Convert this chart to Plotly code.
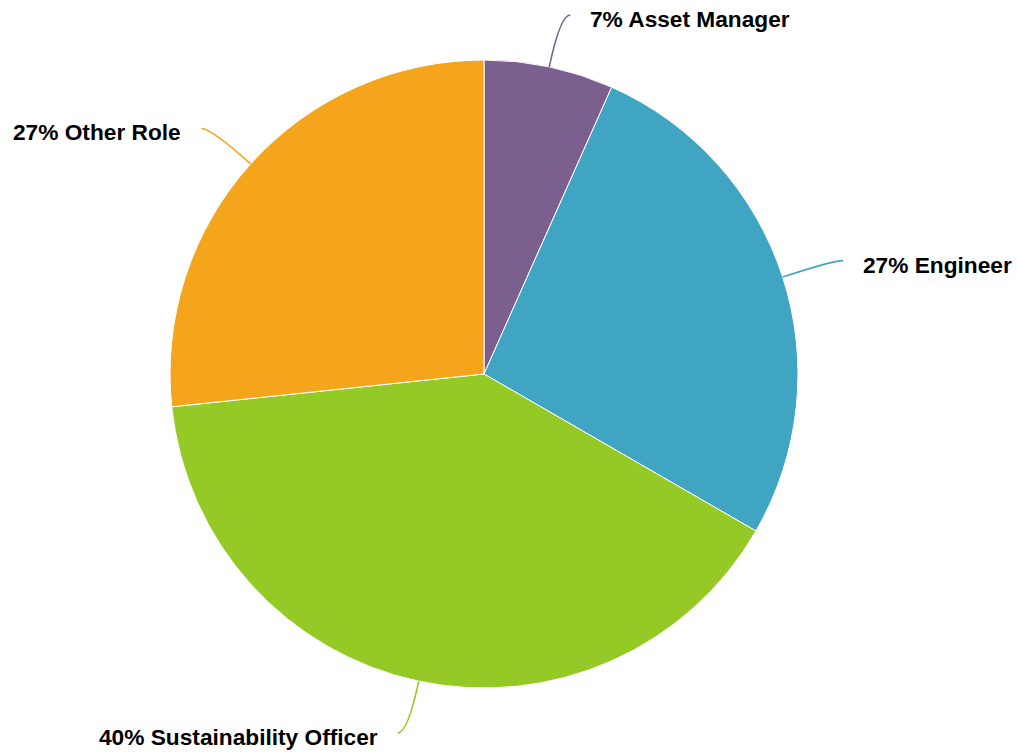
import math
import plotly.graph_objects as go

# Data
roles = ["Asset Manager", "Engineer", "Sustainability Officer", "Other Role"]
counts = [2, 8, 12, 8]
colors = ["#7B5F8E", "#40A4C3", "#95C926", "#F4A51B"]

W, H = 1017, 752
ML, MR, MT, MB = 170, 219, 60, 64
pw, ph = W - ML - MR, H - MT - MB
cx, cy = ML + pw / 2, MT + ph / 2
R = min(pw, ph) / 2


def px2paper(x, y):
    return (x - ML) / pw, 1 - (y - MT) / ph


fig = go.Figure(go.Pie(
    labels=roles, values=counts, sort=False, direction="clockwise", rotation=0,
    marker=dict(colors=colors, line=dict(color="white", width=1)),
    textinfo="none", showlegend=False, hole=0,
))

total = sum(counts)
shapes, annotations = [], []
cum = 0
for role, v, col in zip(roles, counts, colors):
    mid = (cum + v / 2) / total * 2 * math.pi
    cum += v
    dx, dy = math.sin(mid), -math.cos(mid)
    side = 1 if dx >= 0 else -1
    p0 = (cx + R * dx, cy + R * dy)
    p1 = (cx + (R + 53) * dx, cy + (R + 53) * dy)
    p2 = (p1[0] + 10 * side, p1[1])
    a0, a1, a2 = px2paper(*p0), px2paper(*p1), px2paper(*p2)
    shapes.append(dict(
        type="path", xref="paper", yref="paper",
        path=f"M {a0[0]} {a0[1]} Q {a1[0]} {a1[1]} {a2[0]} {a2[1]}",
        line=dict(color=col, width=1.6),
    ))
    lx, ly = px2paper(p2[0] + 18 * side, p2[1] + 4)
    pct = round(v / total * 100)
    annotations.append(dict(
        x=lx, y=ly, xref="paper", yref="paper", showarrow=False,
        xanchor="left" if side > 0 else "right", yanchor="middle",
        text=f"<b>{pct}% {role}</b>",
        font=dict(family="Liberation Sans, Arial, sans-serif", size=22.7, color="black"),
    ))

fig.update_layout(
    width=W, height=H, autosize=False,
    margin=dict(l=ML, r=MR, t=MT, b=MB),
    paper_bgcolor="white", plot_bgcolor="white",
    shapes=shapes, annotations=annotations,
)

fig.write_html("out.html", config={"displayModeBar": False},
               post_script="document.body.style.margin='0';")
